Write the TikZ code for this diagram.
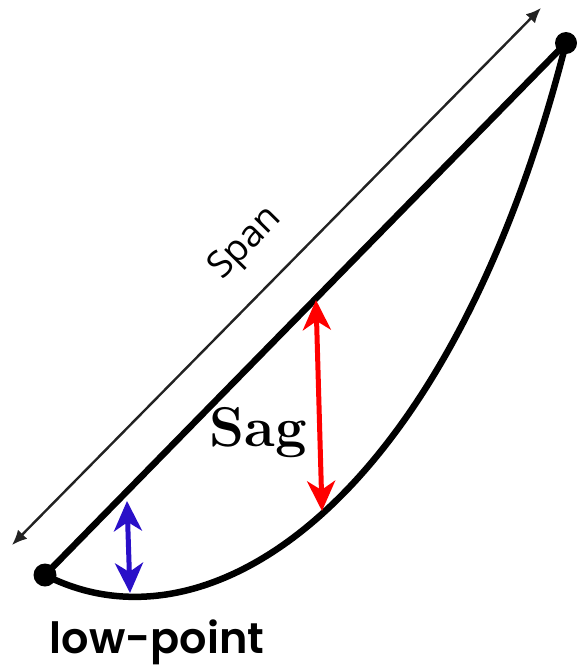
\documentclass[tikz,border=0pt]{standalone}
\usepackage{fontspec}
\newfontfamily\popfont{Poppins}[BoldFont={Poppins SemiBold}]
\newfontfamily\spanfont{Open Sans}
\usetikzlibrary{arrows.meta}

\definecolor{spangray}{HTML}{222222}
\definecolor{sagblue}{HTML}{2A10C8}

\tikzset{
  wire/.style={line width=6.5pt,line cap=round},
  dimline/.style={spangray,line width=2.4pt,{Latex[length=15pt,width=13pt]}-{Latex[length=15pt,width=13pt]}},
  sagarrow/.style={line width=5pt,{Stealth[length=30pt,width=28pt,inset=9pt]}-{Stealth[length=30pt,width=28pt,inset=9pt]}}
}

\begin{document}
\begin{tikzpicture}[x=1pt,y=-1pt]
			\useasboundingbox (0,0) rectangle (577,672);
			% end points of the line
			\coordinate (lowend) at (45,575);
			\coordinate (highend) at (566,43);
			% the span dimension
			\coordinate (spanA) at (12,545);
			\coordinate (spanB) at (541,8);
			\draw[dimline] (spanA) -- (spanB);
			\node[rotate=45.4,font=\spanfont\fontsize{37}{37}\selectfont] (spanlabel) at (246,244) {Span};
			% the chord
			\draw[wire] (lowend) -- (highend);
			% the hanging conductor
			\draw[wire] (lowend) .. controls (210,660) and (450,500) .. (highend);
			% the two dots
			\fill (lowend) circle (11.5pt);
			\fill (highend) circle (11pt);
			% sag
			\coordinate (sagtop) at (316,300);
			\coordinate (sagbot) at (322,511);
			\draw[sagarrow,red] (sagtop) -- (sagbot);
			\node[font=\bfseries\fontsize{56}{56}\selectfont] (saglabel) at (258,433) {Sag};
			% low-point clearance
			\coordinate (lowtop) at (127,501);
			\coordinate (lowbot) at (130,593);
			\draw[sagarrow,sagblue] (lowtop) -- (lowbot);
			\node[font=\popfont\bfseries\fontsize{43}{43}\selectfont] (lowlabel) at (157,642) {low-point};
\end{tikzpicture}
\end{document}
